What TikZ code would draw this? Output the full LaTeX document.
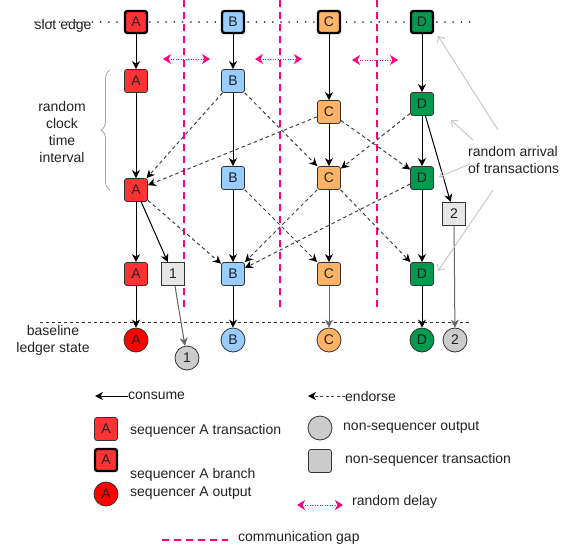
\documentclass[tikz,border=0pt]{standalone}
\usepackage{fontspec}
\setmainfont{Liberation Sans}
\usetikzlibrary{arrows.meta,decorations.pathreplacing,calc}
\definecolor{seqA}{HTML}{FF3333}
\definecolor{outA}{HTML}{FF0000}
\definecolor{seqB}{HTML}{99CCFF}
\definecolor{seqC}{HTML}{FFB366}
\definecolor{seqD}{HTML}{00994D}
\definecolor{gapc}{HTML}{FF0080}
\definecolor{ntx}{HTML}{E6E6E6}
\definecolor{nout}{HTML}{CCCCCC}
\definecolor{bord}{HTML}{333333}
\definecolor{txtc}{HTML}{222222}
\definecolor{arrc}{HTML}{C8C8C8}
\tikzset{
  tx/.style={draw=bord, rounded corners=2.5pt, minimum size=23pt, inner sep=0pt, line width=0.8pt, text=txtc},
  branch/.style={tx, draw=black, line width=2.4pt, minimum size=22pt},
  outc/.style={circle, draw=bord, minimum size=24pt, inner sep=0pt, line width=0.8pt, text=txtc},
  ntxs/.style={draw=bord, fill=ntx, minimum size=23pt, inner sep=0pt, line width=0.8pt, text=txtc},
  consume/.style={-{Stealth[length=8pt,width=8pt,inset=2.5pt]}, line width=1pt, draw=black},
  consumeg/.style={consume, draw=black!60},
  endorse/.style={-{Stealth[length=8pt,width=8pt,inset=2.5pt,color=black]}, line width=1pt, draw=black!75, dash pattern=on 3.5pt off 3pt},
  delay/.style={{Stealth[length=8pt,width=10pt,inset=2.5pt]}-{Stealth[length=8pt,width=10pt,inset=2.5pt]}, draw=gapc, line width=1pt, dash pattern=on 1pt off 1.5pt},
  gapline/.style={draw=gapc, line width=2pt, dash pattern=on 7pt off 5pt},
  arrival/.style={-{Straight Barb[length=5pt,width=9pt]}, draw=arrc, line width=1pt},
  lbl/.style={text=txtc, inner sep=0pt},
}
\begin{document}
\begin{tikzpicture}[x=1pt,y=-1pt,font=\fontsize{14}{17}\selectfont]
\useasboundingbox (0,0) rectangle (571,550);

% communication gaps
\coordinate (g1t) at (184,0); \coordinate (g1b) at (184,310);
\coordinate (g2t) at (280,0); \coordinate (g2b) at (280,310);
\coordinate (g3t) at (377,0); \coordinate (g3b) at (377,310);
\draw[gapline] (g1t) -- (g1b);
\draw[gapline] (g2t) -- (g2b);
\draw[gapline] (g3t) -- (g3b);

% slot edge
\node[lbl] (slot) at (63,26) {slot edge};
\coordinate (se0) at (35,22); \coordinate (se1) at (474,22);
\draw[black!75, line width=2pt, line cap=round, dash pattern=on 0pt off 8.2pt] (se0) -- (se1);

% baseline
\coordinate (bl0) at (40,322); \coordinate (bl1) at (470,322);
\draw[black!80, line width=0.8pt, dash pattern=on 3pt off 3pt] (bl0) -- (bl1);
\node[lbl, align=center] (base) at (53,340) {baseline\\ledger state};

% random delays
\coordinate (d1a) at (163,59); \coordinate (d1b) at (210,59);
\coordinate (d2a) at (255,59); \coordinate (d2b) at (302,59);
\coordinate (d3a) at (352,60); \coordinate (d3b) at (398,60);
\draw[delay] (d1a) -- (d1b);
\draw[delay] (d2a) -- (d2b);
\draw[delay] (d3a) -- (d3b);

% brace
\coordinate (br0) at (110,190); \coordinate (br1) at (110,70);
\draw[black!35, line width=0.8pt, decorate, decoration={brace, amplitude=9pt}] (br0) -- (br1);
\node[lbl, align=center] (rcti) at (62,132) {random\\clock\\time\\interval};

% nodes
\node[branch, fill=seqA] (A0) at (136,22) {A};
\node[branch, fill=seqB] (B0) at (233,22) {B};
\node[branch, fill=seqC] (C0) at (329,22) {C};
\node[branch, fill=seqD] (D0) at (422,22) {D};

\node[tx, fill=seqA] (A1) at (136,81) {A};
\node[tx, fill=seqB] (B1) at (233,81) {B};
\node[tx, fill=seqC] (C1) at (329,112) {C};
\node[tx, fill=seqD] (D1) at (422,104) {D};

\node[tx, fill=seqA] (A2) at (136,190) {A};
\node[tx, fill=seqB] (B2) at (233,178) {B};
\node[tx, fill=seqC] (C2) at (329,178) {C};
\node[tx, fill=seqD] (D2) at (422,178) {D};

\node[tx, fill=seqA] (A3) at (136,274) {A};
\node[tx, fill=seqB] (B3) at (233,274) {B};
\node[tx, fill=seqC] (C3) at (329,274) {C};
\node[tx, fill=seqD] (D3) at (422,274) {D};

\node[ntxs] (T1) at (173,274) {1};
\node[ntxs] (T2) at (454,214) {2};

\node[outc, fill=outA] (Ao) at (136,340) {A};
\node[outc, fill=seqB] (Bo) at (233,340) {B};
\node[outc, fill=seqC] (Co) at (329,340) {C};
\node[outc, fill=seqD] (Do) at (422,340) {D};
\node[outc, fill=nout] (O1) at (187,358) {1};
\node[outc, fill=nout] (O2) at (455,340) {2};

% consume
\draw[consume] (A0) -- (A1);
\draw[consume] (A1) -- (A2);
\draw[consume] (A2) -- (A3);
\draw[consume] (A3) -- (Ao);
\draw[consume] (A2) -- (T1);
\draw[consumeg] (T1) -- (O1);
\draw[consume] (B0) -- (B1);
\draw[consume] (B1) -- (B2);
\draw[consume] (B2) -- (B3);
\draw[consume] (B3) -- (Bo);
\draw[consume] (C0) -- (C1);
\draw[consume] (C1) -- (C2);
\draw[consume] (C2) -- (C3);
\draw[consumeg] (C3) -- (Co);
\draw[consume] (D0) -- (D1);
\draw[consume] (D1) -- (D2);
\draw[consume] (D2) -- (D3);
\draw[consume] (D3) -- (Do);
\draw[consume] (D1) -- (T2);
\draw[consumeg] (T2) -- (O2);

% endorse
\draw[endorse] (B1) -- (A2);
\draw[endorse] (C1) -- (A2);
\draw[endorse] (B1) -- (C2);
\draw[endorse] (C1) -- (D2);
\draw[endorse] (D1) -- (C2);
\draw[endorse] (A2) -- (B3);
\draw[endorse] (C2) -- (B3);
\draw[endorse] (D2) -- (B3);
\draw[endorse] (B2) -- (C3);
\draw[endorse] (C2) -- (D3);

% random arrival
\node[lbl, anchor=west, align=left] (arr) at (468,160) {random arrival\\of transactions};
\coordinate (ra1) at (498,130); \coordinate (ra1e) at (438,36);
\coordinate (ra2) at (473,140); \coordinate (ra2e) at (451,120);
\coordinate (ra3) at (470,164); \coordinate (ra3e) at (439,177);
\coordinate (ra4) at (493,190); \coordinate (ra4e) at (438,271);
\draw[arrival] (ra1) -- (ra1e);
\draw[arrival] (ra2) -- (ra2e);
\draw[arrival] (ra3) -- (ra3e);
\draw[arrival] (ra4) -- (ra4e);

% legend
\node[lbl, anchor=west] (lcons) at (128,396) {consume};
\coordinate (lcons0) at (95,396);
\draw[consume] (lcons.west) -- (lcons0);
\node[lbl, anchor=west] (lend) at (345,396) {endorse};
\coordinate (lend0) at (308,396);
\draw[endorse, dash pattern=on 3pt off 2.5pt] (lend.west) -- (lend0);

\node[tx, fill=seqA] (LA) at (106,429) {A};
\node[lbl, anchor=west] (LAt) at (130,431) {sequencer A transaction};
\node[branch, fill=seqA] (LB) at (106,460) {A};
\node[lbl, anchor=west] (LBt) at (130,475) {sequencer A branch};
\node[outc, fill=outA] (LO) at (106,494) {A};
\node[lbl, anchor=west] (LOt) at (130,493) {sequencer A output};

\node[outc, fill=nout] (LNo) at (320,428) {};
\node[lbl, anchor=west] (LNot) at (343,427) {non-sequencer output};
\node[tx, fill=nout] (LNt) at (320,461) {};
\node[lbl, anchor=west] (LNtt) at (345,460) {non-sequencer transaction};

\coordinate (ld0) at (297,505); \coordinate (ld1) at (343,505);
\draw[delay] (ld0) -- (ld1);
\node[lbl, anchor=west] (ldt) at (352,502) {random delay};

\coordinate (lg0) at (162,540); \coordinate (lg1) at (228,540);
\draw[gapline] (lg0) -- (lg1);
\node[lbl, anchor=west] (lgt) at (238,538) {communication gap};
\end{tikzpicture}
\end{document}
